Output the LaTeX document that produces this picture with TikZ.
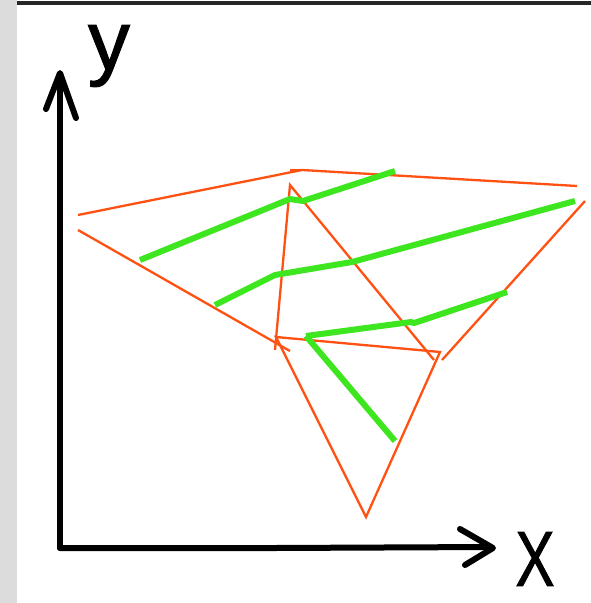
\documentclass[tikz,border=0pt]{standalone}
\usepackage{fontspec}
\newfontfamily\labelfont[FakeBold=1.2]{Liberation Sans}
\definecolor{sketchorange}{HTML}{FF5212}
\definecolor{sketchgreen}{HTML}{3EE61F}
\definecolor{stripgray}{HTML}{DCDCDC}
\begin{document}
\begin{tikzpicture}[x=1pt,y=-1pt,
  axis/.style={line width=6pt,line cap=round,line join=round},
  edge/.style={sketchorange,line width=2.3pt},
  flow/.style={sketchgreen,line width=6pt,line join=round}]
\useasboundingbox (0,0) rectangle (591,603);
\fill[white] (0,0) rectangle (591,603);
\fill[stripgray] (0,0) rectangle (17,603);
\fill[black!85] (17,1) rectangle (591,5);
% axes
\draw[axis] (60,548) -- (60,74);
\draw[axis] (46,109) -- (60,73) -- (76,118);
\draw[axis] (60,548) -- (275,548) -- (490,547);
\draw[axis] (460,529) -- (493,548) -- (465,565);
\node[inner sep=0] (ylabel) at (109,56) {\labelfont\fontsize{84}{84}\selectfont y};
\node[inner sep=0,xscale=0.75] (xlabel) at (535,559) {\labelfont\fontsize{78}{78}\selectfont X};
% orange sketch
\draw[edge] (78,215) -- (302,170) -- (577,186);
\draw[edge] (290,170) -- (302,170);
\draw[edge] (78,230) -- (290,351);
\draw[edge] (275,350) -- (290,185) -- (434,360);
\draw[edge] (276,337) -- (440,352) -- (366,517) -- cycle;
\draw[edge] (585,201) -- (442,360);
% green strokes
\draw[flow] (140,260) -- (290,199) -- (303,201) -- (395,171);
\draw[flow] (215,305) -- (275,275) -- (352,262) -- (575,201);
\draw[flow] (306,336) -- (411,322) -- (414,323) -- (507,292);
\draw[flow] (306,336) -- (395,441);
\end{tikzpicture}
\end{document}
